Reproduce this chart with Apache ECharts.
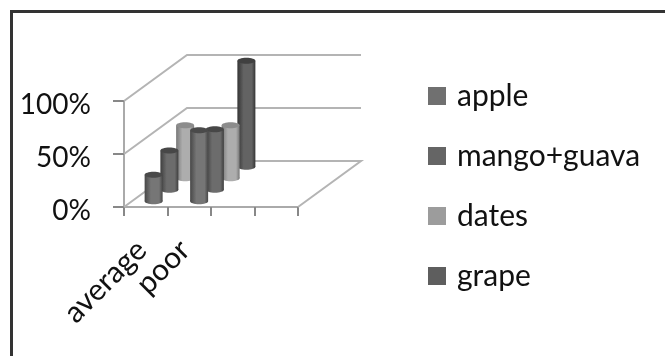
<!DOCTYPE html>
<html>
<head>
<meta charset="utf-8">
<style>html,body{margin:0;padding:0;background:#fff}#c{width:665px;height:356px}</style>
<script src="https://cdn.jsdelivr.net/npm/echarts@6/dist/echarts.min.js"></script>
</head>
<body>
<div id="c"></div>
<script>
const categories = ['average', 'poor', '', ''];
const seriesNames = ['apple', 'mango+guava', 'dates', 'grape'];
const apple = [25, 67, null, null];
const mangoGuava = [37, 57, null, null];
const dates = [50, 50, null, null];
const grape = [null, 100, null, null];
const yTicks = [0, 50, 100];

const seriesValues = [apple, mangoGuava, dates, grape];
const colors = [
  ['#474747', '#767676', '#4a4a4a'],
  ['#3f3f3f', '#6c6c6c', '#474747'],
  ['#777777', '#adadad', '#8c8c8c'],
  ['#353535', '#636363', '#404040']
];
const legendColors = ['#707070', '#656565', '#9c9c9c', '#5e5e5e'];

// Oblique projection of the floor depth
const depthX = 63, depthY = -46;
const barHalf = 9, capRy = 3;
// Later categories sit slightly further right, as in a perspective view
const categorySpread = 2;

function renderBar(depthIndex, params, api) {
  const cat = api.value(0), val = api.value(1);
  const base = api.coord([cat, 0]);
  const top = api.coord([cat, val]);
  const f = (depthIndex + 0.5) / 4;
  const cx = base[0] + depthX * f + cat * categorySpread, by = base[1] + depthY * f, ty = top[1] + depthY * f;
  const [edge, mid, cap] = colors[depthIndex];
  const fill = new echarts.graphic.LinearGradient(0, 0, 1, 0, [
    { offset: 0, color: edge }, { offset: 0.35, color: mid }, { offset: 0.8, color: mid }, { offset: 1, color: edge }
  ]);
  return {
    type: 'group',
    children: [
      { type: 'rect', shape: { x: cx - barHalf, y: ty, width: barHalf * 2, height: by - ty }, style: { fill } },
      { type: 'ellipse', shape: { cx, cy: by, rx: barHalf, ry: capRy }, style: { fill } },
      { type: 'ellipse', shape: { cx, cy: ty, rx: barHalf, ry: capRy }, style: { fill: cap } }
    ]
  };
}

// Back wall gridlines, their diagonals along the side wall, and the floor edge
function renderWall(params, api) {
  const v = api.value(0);
  const a = api.coord([0, v]);
  const size = api.size([1, 0])[0];
  const left = a[0] - size / 2, right = left + size * categories.length;
  const pts = [[left, a[1]], [left + depthX, a[1] + depthY], [right + depthX, a[1] + depthY]];
  if (v === 0) pts.push([right, a[1]]);
  return { type: 'polyline', shape: { points: pts }, style: { stroke: '#b4b4b4', lineWidth: 2, fill: null }, silent: true };
}

const chart = echarts.init(document.getElementById('c'), null, { renderer: 'canvas' });
chart.setOption({
  animation: false,
  backgroundColor: '#fff',
  graphic: [{
    type: 'polyline',
    shape: { points: [[11.5, 356], [11.5, 11.5], [665, 11.5]] },
    style: { stroke: '#333', lineWidth: 3, fill: null }, z: 0, silent: true
  }],
  grid: { left: 124, top: 101, width: 174, height: 106 },
  legend: {
    orient: 'vertical', left: 423, top: 76, itemWidth: 18, itemHeight: 18, itemGap: 30,
    icon: 'rect', selectedMode: false, data: seriesNames,
    textStyle: { fontFamily: 'Lato', fontSize: 30, color: '#111', padding: [0, 0, 0, 6] }
  },
  xAxis: {
    type: 'category', data: categories, boundaryGap: true,
    axisLine: { lineStyle: { color: '#aaa', width: 2 } },
    axisTick: { show: true, alignWithLabel: false, interval: 0, length: 9, lineStyle: { color: '#888', width: 2 } },
    axisLabel: { rotate: 45, interval: 0, margin: 34, padding: [0, 6, 0, 0], fontFamily: 'Lato', fontSize: 30, color: '#111' }
  },
  yAxis: {
    type: 'value', min: 0, max: 100, interval: 50,
    axisLine: { show: true, lineStyle: { color: '#aaa', width: 2 } },
    axisTick: { show: true, length: 11, lineStyle: { color: '#888', width: 2 } },
    splitLine: { show: false },
    axisLabel: { margin: 33, verticalAlign: 'top', lineHeight: 8, fontFamily: 'Lato', fontSize: 28, color: '#111', formatter: '{value}%' }
  },
  series: [
    {
      type: 'custom', name: 'wall', coordinateSystem: 'cartesian2d', silent: true, z: 1,
      data: yTicks.map(v => [v]), renderItem: renderWall, encode: { x: -1, y: 0 }
    },
    ...seriesNames.map((name, i) => ({
      type: 'custom', name, coordinateSystem: 'cartesian2d', z: 10 - i,
      itemStyle: { color: legendColors[i] },
      data: seriesValues[i].map((v, c) => v === null ? null : [c, v]).filter(Boolean),
      encode: { x: 0, y: 1 },
      renderItem: (p, api) => renderBar(i, p, api)
    }))
  ]
});
</script>
</body>
</html>
